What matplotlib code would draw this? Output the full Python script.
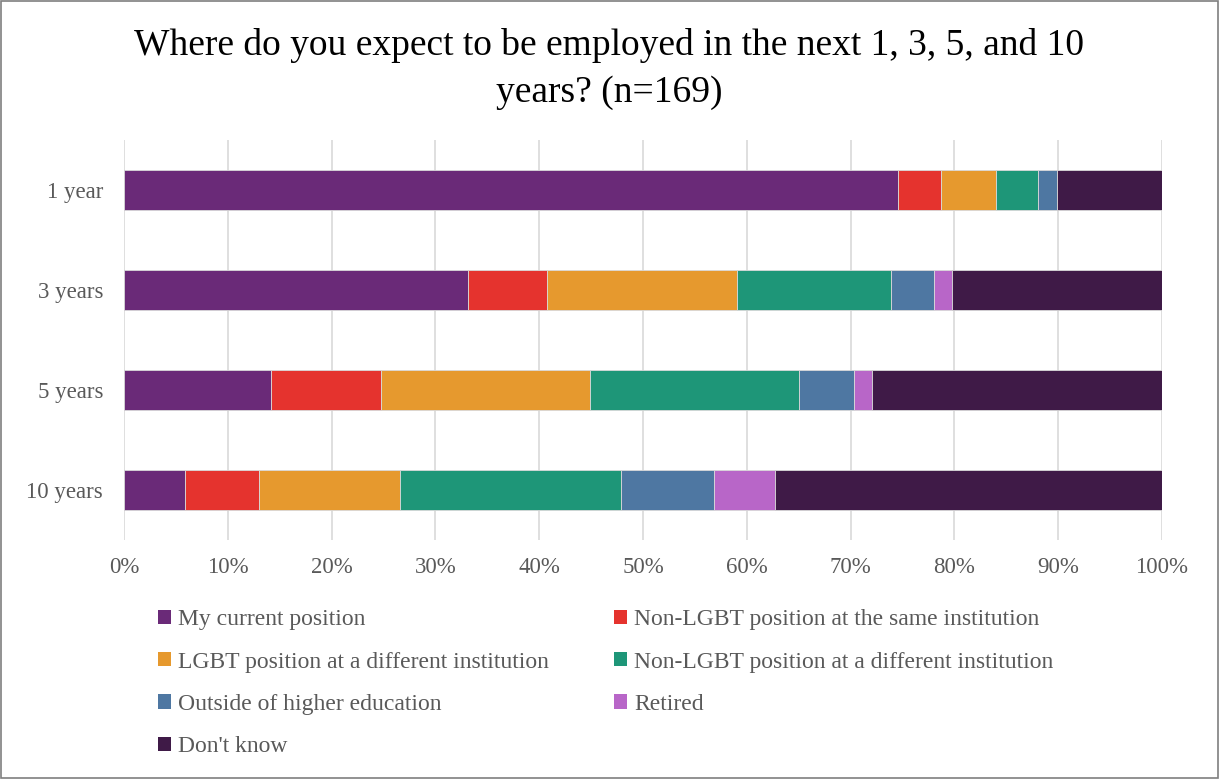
import matplotlib
matplotlib.use("Agg")
import matplotlib.pyplot as plt
from matplotlib.patches import Rectangle, Patch

categories = ["1 year", "3 years", "5 years", "10 years"]
series_names = [
    "My current position",
    "Non-LGBT position at the same institution",
    "LGBT position at a different institution",
    "Non-LGBT position at a different institution",
    "Outside of higher education",
    "Retired",
    "Don't know",
]
my_current = [74.6, 33.1, 14.2, 5.9]
nonlgbt_same = [4.1, 7.7, 10.6, 7.1]
lgbt_diff = [5.3, 18.3, 20.1, 13.6]
nonlgbt_diff = [4.1, 14.8, 20.1, 21.3]
outside = [1.8, 4.1, 5.3, 8.9]
retired = [0.0, 1.8, 1.8, 5.9]
dont_know = [10.1, 20.2, 27.9, 37.3]
colors = ["#6A2A78", "#E5332E", "#E6992E", "#1E9678", "#4E77A2", "#B866C8", "#3F1A47"]

series = [my_current, nonlgbt_same, lgbt_diff, nonlgbt_diff, outside, retired, dont_know]

plt.rcParams['font.family'] = ['Liberation Serif', 'DejaVu Serif']

fig = plt.figure(figsize=(12.19, 7.79), dpi=100)
ax = fig.add_axes([0.1017, 0.3068, 0.8515, 0.5135])

y = list(range(len(categories)))
left = [0.0] * len(categories)
for vals, name, c in zip(series, series_names, colors):
    ax.barh(y, vals, left=left, height=0.4, color=c, edgecolor="#D9D9D9",
            linewidth=0.6, label=name, zorder=3)
    left = [l + v for l, v in zip(left, vals)]

ax.set_xlim(0, 100)
ax.set_ylim(3.5, -0.5)
ax.set_yticks(y)
ax.set_yticklabels(categories)
ax.set_xticks(range(0, 101, 10))
ax.set_xticklabels([f"{v}%" for v in range(0, 101, 10)])
ax.tick_params(axis="both", length=0, labelsize=16.5, labelcolor="#595959")
ax.tick_params(axis="x", pad=12)
ax.tick_params(axis="y", pad=15)
ax.grid(axis="x", color="#D9D9D9", linewidth=1.2, zorder=0)
for s in ax.spines.values():
    s.set_visible(False)

fig.text(0.5, 1 - 69 / 779, "Where do you expect to be employed in the next 1, 3, 5, and 10\nyears? (n=169)",
         ha="center", va="center", fontsize=27, color="black", linespacing=1.45)

order = [0, 2, 4, 6, 1, 3, 5]
handles = [Patch(facecolor=colors[i], edgecolor="none") for i in order]
labels = [series_names[i] for i in order]
fig.legend(handles, labels, ncol=2, loc="upper left", bbox_to_anchor=(0.122, 0.230),
           frameon=False, fontsize=17, labelcolor="#595959", handlelength=0.55,
           handleheight=0.55, handletextpad=0.3, columnspacing=2.75, labelspacing=0.9,
           borderaxespad=0.0)

fig.patches.append(Rectangle((0.001, 0.001), 0.998, 0.998, transform=fig.transFigure,
                             fill=False, edgecolor="#7F7F7F", linewidth=1.2))

fig.savefig("out.png", dpi=100)
